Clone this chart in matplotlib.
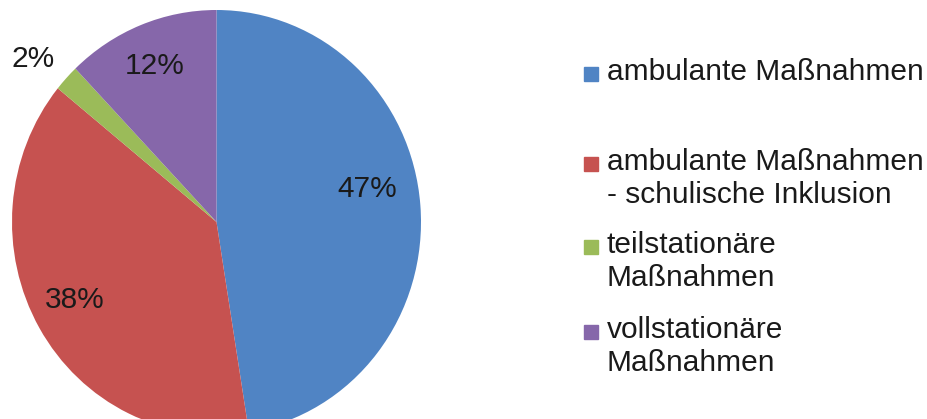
import matplotlib
matplotlib.use("Agg")
import matplotlib.pyplot as plt
from matplotlib.patches import Rectangle

# Data
categories = [
    "ambulante Maßnahmen",
    "ambulante Maßnahmen\n- schulische Inklusion",
    "teilstationäre\nMaßnahmen",
    "vollstationäre\nMaßnahmen",
]
shares = [47, 38, 2, 12]
colors = ["#5084C4", "#C65250", "#9BBB59", "#8667AA"]

plt.rcParams['font.family'] = ['Liberation Sans', 'DejaVu Sans']

fig = plt.figure(figsize=(9.28, 4.19), dpi=100)
W, H = 928, 419

# pie axes (slightly taller than wide, like the original)
ax = fig.add_axes([12 / W, -15 / H, 409 / W, 424 / H])
wedges, texts, autotexts = ax.pie(
    shares, colors=colors, startangle=90, counterclock=False,
    autopct='%1.0f%%', textprops={'fontsize': 21.5, 'color': '#1a1a1a'})
ax.set_aspect('auto')
ax.set_xlim(-1, 1)
ax.set_ylim(-1, 1)

# move percentage labels where Excel put them
label_pos = [(0.738, 0.156), (-0.692, -0.368), (-0.897, 0.767), (-0.301, 0.736)]
for t, pos in zip(autotexts, label_pos):
    t.set_position(pos)
    t.set_ha('center')
    t.set_va('center')

# legend drawn by hand
entry_baselines = [80, 170, 253, 338]
line_step = 33
for label, col, base in zip(categories, colors, entry_baselines):
    fig.patches.append(Rectangle((584 / W, 1 - (base + 1) / H), 14 / W, 14 / H,
                                 transform=fig.transFigure, color=col))
    for j, line in enumerate(label.split('\n')):
        fig.text(607 / W, 1 - (base + j * line_step) / H, line,
                 fontsize=21.5, va='baseline', color='#1a1a1a')

fig.savefig("out.png", dpi=100)
